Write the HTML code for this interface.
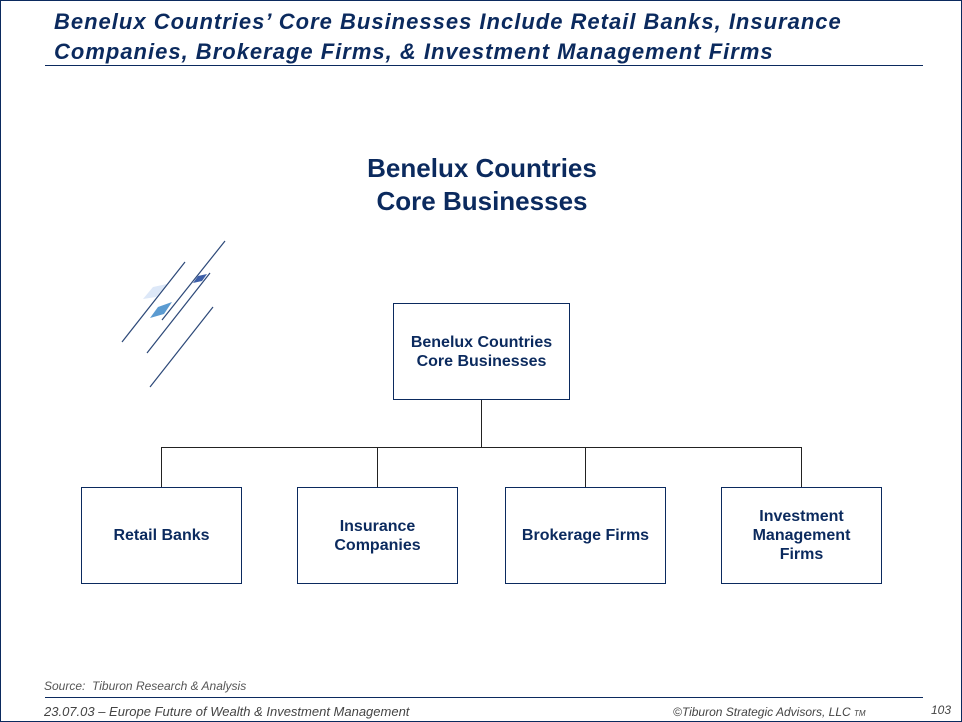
<!DOCTYPE html>
<html><head><style>
body{margin:0;width:962px;height:722px;overflow:hidden;background:#fff;font-family:"Liberation Sans",sans-serif;}
.frame{position:absolute;left:0;top:0;width:960px;height:720px;border:1px solid #0b2a5e;}
.t{position:absolute;color:#0b2a5e;white-space:nowrap;}
.box{position:absolute;border:1px solid #0b2a5e;display:flex;align-items:center;justify-content:center;text-align:center;color:#0b2a5e;font-weight:bold;font-size:16px;line-height:19px;box-sizing:border-box;}
.l{position:absolute;background:#222;}
</style></head><body>
<div class="frame"></div>
<div class="t" style="left:54px;top:7px;font-size:22px;font-weight:bold;font-style:italic;line-height:30px;letter-spacing:1px;">Benelux Countries’ Core Businesses Include Retail Banks, Insurance<br>Companies, Brokerage Firms, &amp; Investment Management Firms</div>
<div style="position:absolute;left:45px;top:65px;width:878px;height:1px;background:#0b2a5e"></div>
<div class="t" style="left:282px;width:400px;text-align:center;top:152px;font-size:26px;font-weight:bold;line-height:33px;">Benelux Countries<br>Core Businesses</div>
<svg style="position:absolute;left:0;top:0" width="962" height="722">
<polygon points="143,299 153,287 167,284 156,297" fill="#dde8f8"/>
<polygon points="150,318 158,307 172,302 164,314" fill="#5b9bd1"/>
<polygon points="193,283 198,276 207,274 202,281" fill="#3d5fa8"/>
<g stroke="#2c4878" stroke-width="1.2">
<line x1="122" y1="342" x2="185" y2="262"/>
<line x1="162" y1="320" x2="225" y2="241"/>
<line x1="147" y1="353" x2="210" y2="273"/>
<line x1="150" y1="387" x2="213" y2="307"/>
</g>
</svg>
<div class="box" style="left:393px;top:303px;width:177px;height:97px;">Benelux Countries<br>Core Businesses</div>
<div class="l" style="left:481px;top:400px;width:1px;height:47px"></div>
<div class="l" style="left:161px;top:447px;width:641px;height:1px"></div>
<div class="l" style="left:161px;top:447px;width:1px;height:40px"></div>
<div class="l" style="left:377px;top:447px;width:1px;height:40px"></div>
<div class="l" style="left:585px;top:447px;width:1px;height:40px"></div>
<div class="l" style="left:801px;top:447px;width:1px;height:40px"></div>
<div class="box" style="left:81px;top:487px;width:161px;height:97px;">Retail Banks</div>
<div class="box" style="left:297px;top:487px;width:161px;height:97px;">Insurance<br>Companies</div>
<div class="box" style="left:505px;top:487px;width:161px;height:97px;">Brokerage Firms</div>
<div class="box" style="left:721px;top:487px;width:161px;height:97px;">Investment<br>Management<br>Firms</div>
<div class="t" style="left:44px;top:679px;font-size:12px;font-style:italic;color:#555">Source:&nbsp; Tiburon Research &amp; Analysis</div>
<div style="position:absolute;left:45px;top:697px;width:878px;height:1px;background:#0b2a5e"></div>
<div class="t" style="left:44px;top:704px;font-size:13px;font-style:italic;color:#444">23.07.03 – Europe Future of Wealth &amp; Investment Management</div>
<div class="t" style="left:673px;top:705px;font-size:12px;font-style:italic;color:#444">©Tiburon Strategic Advisors, LLC <span style="font-size:8px">TM</span></div>
<div class="t" style="left:931px;top:703px;font-size:12px;font-style:italic;color:#444">103</div>
</body></html>
